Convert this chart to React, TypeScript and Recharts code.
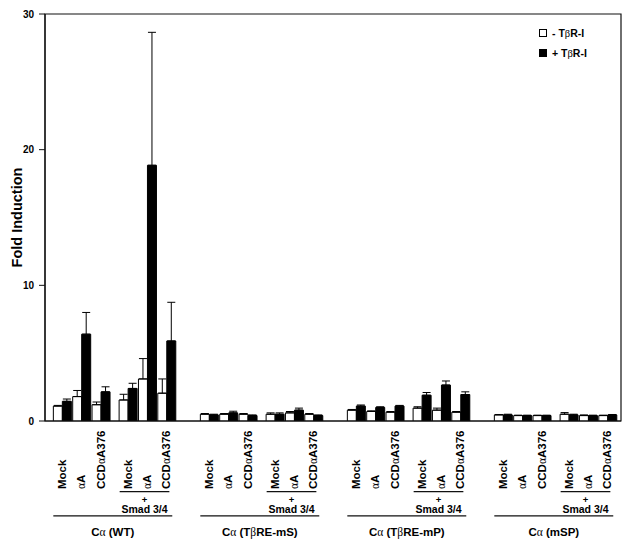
import React from "react";
import {
  Bar,
  BarChart,
  ErrorBar,
  Legend,
  ReferenceArea,
  ReferenceLine,
  XAxis,
  YAxis,
} from "recharts";

// reporter constructs (one block of bars each)
const reporters = ["Cα (WT)", "Cα (TβRE-mS)", "Cα (TβRE-mP)", "Cα (mSP)"];
// expression constructs, repeated without and with Smad 3/4
const constructs = ["Mock", "αA", "CCDαA376", "Mock", "αA", "CCDαA376"];
const smadMark = "+";
const smadLabel = "Smad 3/4";
const seriesNames = ["- TβR-I", "+ TβR-I"];
const yTicks = [0, 10, 20, 30];

// fold induction, one row per reporter
const minusReceptor = [
  [1.1, 1.8, 1.2, 1.55, 3.1, 2.05],
  [0.5, 0.5, 0.5, 0.5, 0.6, 0.5],
  [0.8, 0.7, 0.65, 0.95, 0.8, 0.65],
  [0.45, 0.4, 0.4, 0.5, 0.4, 0.4],
];
const minusReceptorErr = [
  [0.05, 0.45, 0.2, 0.42, 1.5, 1.05],
  [0.05, 0.05, 0.05, 0.1, 0.1, 0.05],
  [0.05, 0.05, 0.05, 0.1, 0.15, 0.05],
  [0.03, 0.03, 0.03, 0.12, 0.05, 0.03],
];
const plusReceptor = [
  [1.45, 6.4, 2.15, 2.4, 18.85, 5.9],
  [0.45, 0.6, 0.4, 0.5, 0.8, 0.4],
  [1.1, 1.0, 1.1, 1.9, 2.65, 1.95],
  [0.45, 0.4, 0.4, 0.45, 0.4, 0.45],
];
const plusReceptorErr = [
  [0.17, 1.6, 0.37, 0.38, 9.8, 2.85],
  [0.05, 0.12, 0.05, 0.1, 0.15, 0.05],
  [0.08, 0.05, 0.05, 0.2, 0.3, 0.2],
  [0.05, 0.03, 0.03, 0.05, 0.03, 0.03],
];

// layout of the pair slots on the x scale
const SLOTS = [0, 1, 2, 3.4, 4.4, 5.4];
const GROUP_STEP = 7.6;
const X_DOMAIN: [number, number] = [-0.88, 28.9];
const SMAD_Y = -5.2;
const GROUP_Y = -7.0;

const SANS = "'Liberation Sans', Arial, Helvetica, sans-serif";
const SERIF = "'Liberation Serif', 'Times New Roman', serif";

const rows = reporters.flatMap((_, g) =>
  SLOTS.map((s, i) => ({
    x: g * GROUP_STEP + s,
    label: constructs[i],
    minus: minusReceptor[g][i],
    minusErr: [0, minusReceptorErr[g][i]],
    plus: plusReceptor[g][i],
    plusErr: [0, plusReceptorErr[g][i]],
  }))
);

function withGreek(s: string) {
  return s
    .split(/([αβ])/)
    .filter((p) => p.length > 0)
    .map((p, i) =>
      /[αβ]/.test(p) ? (
        <tspan key={i} fontFamily={SERIF} fontWeight="normal">
          {p}
        </tspan>
      ) : (
        <tspan key={i}>{p}</tspan>
      )
    );
}

function PairTick(props: any) {
  const { x, y, index } = props;
  const row = rows[index];
  if (!row) return null;
  const tx = x + 4;
  const ty = y + 68;
  return (
    <text
      x={tx}
      y={ty}
      transform={`rotate(-90, ${tx}, ${ty})`}
      textAnchor="start"
      fontFamily={SANS}
      fontWeight="bold"
      fontSize={11.5}
      fill="#000"
    >
      {withGreek(row.label)}
    </text>
  );
}

function SmadText(props: any) {
  const vb = props.viewBox ?? props;
  const cx = vb.x + vb.width / 2;
  return (
    <g fontFamily={SANS} fontWeight="bold" fill="#000" textAnchor="middle">
      <text x={cx} y={vb.y + 11} fontSize={9.5}>
        {smadMark}
      </text>
      <text x={cx} y={vb.y + 21.5} fontSize={10.5}>
        {smadLabel}
      </text>
    </g>
  );
}

function groupText(name: string) {
  return (props: any) => {
    const vb = props.viewBox ?? props;
    return (
      <text
        x={vb.x + vb.width / 2}
        y={vb.y + 20.5}
        textAnchor="middle"
        fontFamily={SANS}
        fontWeight="bold"
        fontSize={11.5}
        fill="#000"
      >
        {withGreek(name)}
      </text>
    );
  };
}

function YTitle(props: any) {
  const vb = props.viewBox ?? props;
  const cy = vb.y + vb.height / 2;
  return (
    <text
      x={13.5}
      y={cy}
      transform={`rotate(-90, 13.5, ${cy})`}
      textAnchor="middle"
      fontFamily={SANS}
      fontWeight="bold"
      fontSize={14.5}
      fill="#000"
    >
      Fold Induction
    </text>
  );
}

function LegendBox(props: any) {
  const items = props.payload ?? [];
  return (
    <svg width={90} height={40}>
      {items.map((p: any, i: number) => (
        <g key={i}>
          <rect
            x={1.5}
            y={6.5 + i * 20}
            width={7}
            height={7}
            fill={i === 0 ? "#fff" : "#000"}
            stroke="#000"
          />
          <text
            x={14}
            y={14 + i * 20}
            fontFamily={SANS}
            fontWeight="bold"
            fontSize={10.5}
            fill="#000"
          >
            {withGreek(seriesNames[i] ?? p.value)}
          </text>
        </g>
      ))}
    </svg>
  );
}

export default function App() {
  return (
    <BarChart
      width={617}
      height={531}
      data={rows}
      margin={{ top: 6, right: 4, left: 0, bottom: 0 }}
      barGap={0}
    >
      <XAxis
        dataKey="x"
        type="number"
        domain={X_DOMAIN}
        allowDataOverflow
        ticks={rows.map((r) => r.x)}
        interval={0}
        tick={<PairTick />}
        tickLine={false}
        tickSize={0}
        tickMargin={0}
        height={118}
        axisLine={{ stroke: "#111", strokeWidth: 1.2 }}
      />
      <YAxis
        type="number"
        domain={[0, 30]}
        allowDataOverflow
        ticks={yTicks}
        width={37}
        tickSize={6}
        tickMargin={5}
        tickLine={{ stroke: "#111" }}
        axisLine={{ stroke: "#111", strokeWidth: 1.2 }}
        tick={{ fontFamily: SANS, fontWeight: "bold", fontSize: 10, fill: "#000" }}
        label={<YTitle />}
      />
      <ReferenceArea
        x1={X_DOMAIN[0]}
        x2={X_DOMAIN[1]}
        y1={0}
        y2={30}
        fill="none"
        stroke="#111"
        strokeWidth={1.2}
        ifOverflow="visible"
      />
      <Legend
        layout="vertical"
        align="center"
        verticalAlign="middle"
        wrapperStyle={{ top: 15, left: 530, width: 90 }}
        content={<LegendBox />}
      />
      <Bar
        dataKey="minus"
        name={seriesNames[0]}
        fill="#fff"
        stroke="#000"
        strokeWidth={1}
        barSize={9}
        isAnimationActive={false}
      >
        <ErrorBar dataKey="minusErr" width={4} stroke="#000" strokeWidth={1} direction="y" />
      </Bar>
      <Bar
        dataKey="plus"
        name={seriesNames[1]}
        fill="#000"
        stroke="#000"
        strokeWidth={1}
        barSize={9}
        isAnimationActive={false}
      >
        <ErrorBar dataKey="plusErr" width={4} stroke="#000" strokeWidth={1} direction="y" />
      </Bar>
      {reporters.map((name, g) => (
        <ReferenceLine
          key={`smad-${g}`}
          segment={[
            { x: g * GROUP_STEP + SLOTS[3] - 0.42, y: SMAD_Y },
            { x: g * GROUP_STEP + SLOTS[5] + 0.15, y: SMAD_Y },
          ]}
          stroke="#111"
          strokeWidth={1.2}
          ifOverflow="visible"
          label={SmadText}
        />
      ))}
      {reporters.map((name, g) => (
        <ReferenceLine
          key={`group-${g}`}
          segment={[
            { x: g * GROUP_STEP + SLOTS[0] - 0.45, y: GROUP_Y },
            { x: g * GROUP_STEP + SLOTS[5] + 0.3, y: GROUP_Y },
          ]}
          stroke="#111"
          strokeWidth={1.2}
          ifOverflow="visible"
          label={groupText(name)}
        />
      ))}
    </BarChart>
  );
}
